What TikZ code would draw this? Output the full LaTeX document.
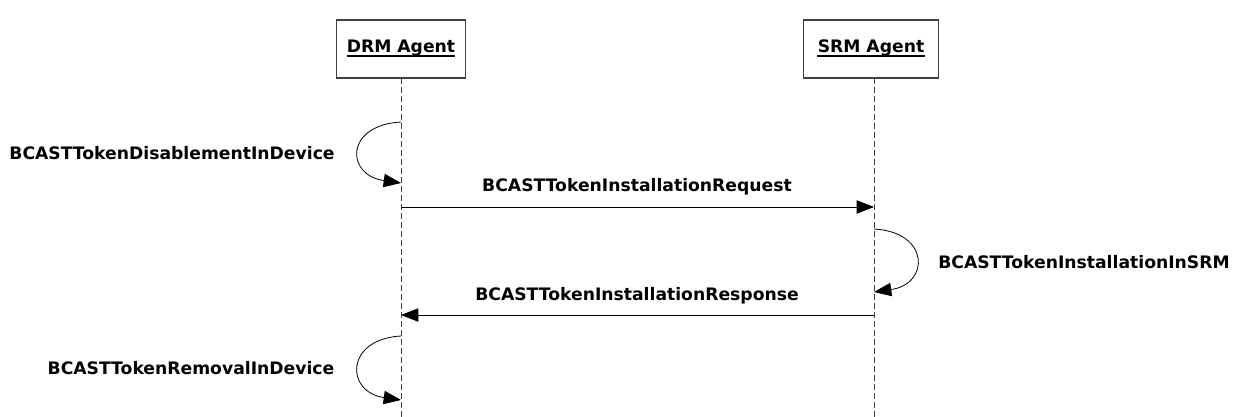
\documentclass[tikz,border=0pt]{standalone}
\usepackage{fontspec}
\setmainfont{DejaVu Sans}
\usetikzlibrary{arrows.meta,calc}
\begin{document}
\begin{tikzpicture}[x=0.75pt,y=-0.75pt,
  font=\bfseries\fontsize{12.9}{14}\selectfont,
  actor/.style={draw=black!75, line width=0.8pt, fill=white, minimum width=129*0.75pt, minimum height=58*0.75pt, inner sep=0pt},
  title/.style={inner sep=0pt, anchor=base},
  uline/.style={draw=black, line width=1.1pt},
  lifeline/.style={draw=black!75, line width=0.7pt, dash pattern=on 4.5pt off 2.25pt},
  msg/.style={draw=black, line width=0.6pt, -{Triangle[length=13pt,width=10pt]}},
  lbl/.style={inner sep=0pt, anchor=base}]
\useasboundingbox (0,0) rectangle (1242,417);
% actors with underlined titles
\node[actor] (drm) at (401,49) {};
\node[actor, minimum width=135*0.75pt] (srm) at (871,49) {};
\node[title] (drmt) at (401,53) {DRM Agent};
\node[title] (srmt) at (871,53) {SRM Agent};
\draw[uline] ($(drmt.base west)+(0,3)$) -- ($(drmt.base east)+(0,3)$);
\draw[uline] ($(srmt.base west)+(0,3)$) -- ($(srmt.base east)+(0,3)$);
% lifelines
\coordinate (drmtop) at (401,78);
\coordinate (srmtop) at (874,78);
\coordinate (drmend) at (401,417);
\coordinate (srmend) at (874,417);
\draw[lifeline] (drmtop) -- (drmend);
\draw[lifeline] (srmtop) -- (srmend);
% points on the lifelines
\coordinate (d1) at (401,122);
\coordinate (d2) at (401,183);
\coordinate (d3) at (401,207);
\coordinate (s3) at (874,207);
\coordinate (s4) at (874,229);
\coordinate (s5) at (874,292);
\coordinate (s6) at (874,315);
\coordinate (d6) at (401,315);
\coordinate (d7) at (401,336);
\coordinate (d8) at (401,400);
% self calls and messages
\draw[msg] (d1) .. controls (345,125) and (345,175) .. (d2);
\node[lbl] (l1) at (172,160) {BCASTTokenDisablementInDevice};
\draw[msg] (d3) -- (s3);
\node[lbl] (l2) at (637,192) {BCASTTokenInstallationRequest};
\draw[msg] (s4) .. controls (930,232) and (930,284) .. (s5);
\node[lbl] (l3) at (1084,268) {BCASTTokenInstallationInSRM};
\draw[msg] (s6) -- (d6);
\node[lbl] (l4) at (637,300) {BCASTTokenInstallationResponse};
\draw[msg] (d7) .. controls (345,339) and (345,392) .. (d8);
\node[lbl] (l5) at (191,374) {BCASTTokenRemovalInDevice};
\end{tikzpicture}
\end{document}
